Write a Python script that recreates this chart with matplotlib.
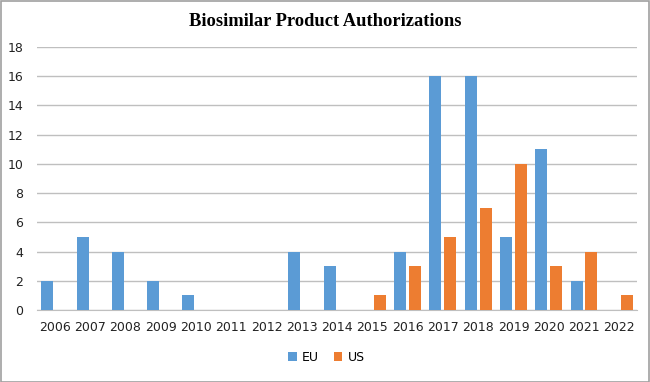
import numpy as np
import matplotlib
matplotlib.use("Agg")
import matplotlib.pyplot as plt
from matplotlib.patches import Rectangle

years = [str(y) for y in range(2006, 2023)]
eu = [2, 5, 4, 2, 1, 0, 0, 4, 3, 0, 4, 16, 16, 5, 11, 2, 0]
us = [0, 0, 0, 0, 0, 0, 0, 0, 0, 1, 3, 5, 7, 10, 3, 4, 1]

fig = plt.figure(figsize=(6.5, 3.82), dpi=100)
ax = fig.add_axes([0.057, 0.1885, 0.923, 0.6885])

x = np.arange(len(years))
w = 0.34
ax.bar(x - 0.21, eu, w, color="#5B9BD5", label="EU", zorder=3)
ax.bar(x + 0.21, us, w, color="#ED7D31", label="US", zorder=3)

ax.set_xlim(-0.5, len(years) - 0.5)
ax.set_ylim(0, 18)
ax.set_yticks(range(0, 19, 2))
ax.set_xticks(x)
ax.set_xticklabels(years)
ax.yaxis.grid(True, color="#BFBFBF", linewidth=1, zorder=0)
for s in ["top", "right", "left"]:
    ax.spines[s].set_visible(False)
ax.spines["bottom"].set_color("#BFBFBF")
ax.tick_params(length=0, labelsize=9, colors="#222222")
ax.tick_params(axis="x", pad=8)
ax.tick_params(axis="y", pad=10)

# title centred on the whole figure, not the axes
fig.text(0.5, 0.945, "Biosimilar Product Authorizations", family="Liberation Serif",
         fontweight="bold", fontsize=13.3, ha="center", va="center")

fig.legend(loc="center", bbox_to_anchor=(0.502, 0.065), ncol=2, frameon=False,
           fontsize=9, handlelength=0.7, handleheight=0.7, columnspacing=1.2,
           handletextpad=0.4)

fig.patches.append(Rectangle((0.001, 0.001), 0.997, 0.997, transform=fig.transFigure,
                             fill=False, edgecolor="#A0A0A0", linewidth=1.2))

fig.savefig("out.png", dpi=100)
